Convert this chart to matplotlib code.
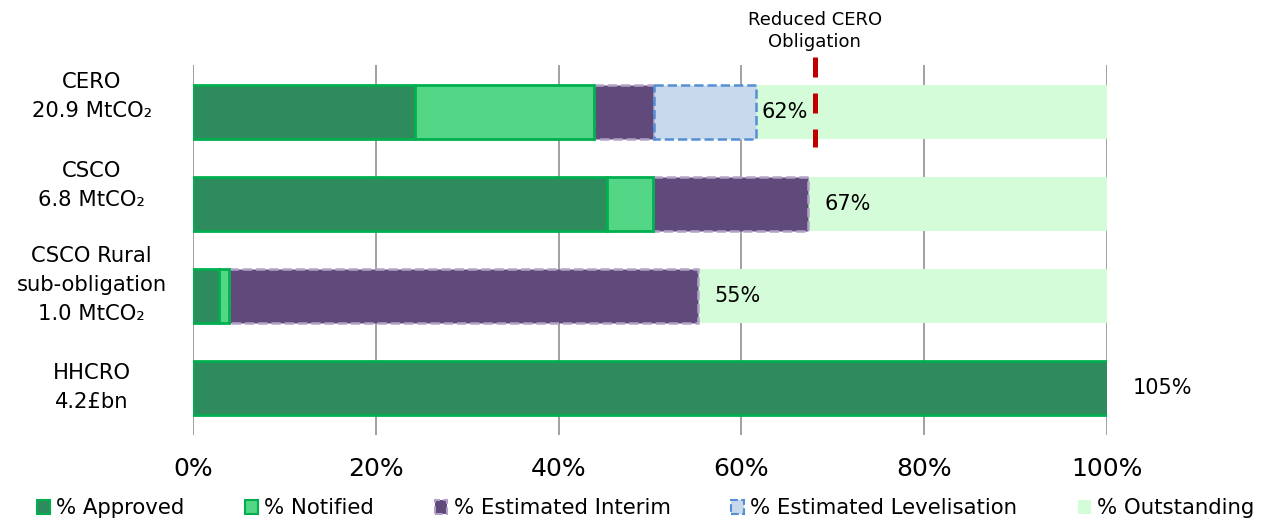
import numpy as np
import matplotlib
matplotlib.use("Agg")
import matplotlib.pyplot as plt
from matplotlib.patches import Patch
from matplotlib.transforms import blended_transform_factory

# Data (fractions of obligation)
categories = ["CERO\n20.9 MtCO\u2082", "CSCO\n6.8 MtCO\u2082",
              "CSCO Rural\nsub-obligation\n1.0 MtCO\u2082", "HHCRO\n4.2\u00a3bn"]
approved = np.array([0.243, 0.453, 0.028, 1.05])
notified = np.array([0.196, 0.050, 0.011, 0.0])
interim = np.array([0.065, 0.170, 0.513, 0.0])
levelisation = np.array([0.112, 0.0, 0.0, 0.0])
reduced_cero = 0.68

done = approved + notified + interim + levelisation
outstanding = np.clip(1.0 - done, 0, None)

# Colours
c_appr = "#2E8B5E"
c_green_edge = "#00B050"
c_notif = "#53D685"
c_int = "#604A7B"
c_int_edge = "#B3A2C7"
c_lev = "#C9D9EC"
c_lev_edge = "#558ED5"
c_out = "#D5FCD9"

fig = plt.figure(figsize=(12.66, 5.22), dpi=100)
ax = fig.add_axes([0.1525, 0.1667, 0.722, 0.7088])

y = np.arange(len(categories))
h = 0.59

left = np.zeros(len(y))
ax.barh(y, approved, h, left=left, color=c_appr, edgecolor=c_green_edge, linewidth=2, zorder=3)
left = left + approved
ax.barh(y, notified, h, left=left, color=c_notif, edgecolor=c_green_edge, linewidth=2, zorder=3)
left = left + notified
mask = interim > 0
ax.barh(y[mask], interim[mask], h, left=left[mask], color=c_int, edgecolor=c_int_edge,
        linewidth=1.8, linestyle="--", zorder=2.5)
left = left + interim
mask = levelisation > 0
ax.barh(y[mask], levelisation[mask], h, left=left[mask], color=c_lev, edgecolor=c_lev_edge,
        linewidth=1.8, linestyle="--", zorder=2.5)
left = left + levelisation
ax.barh(y, outstanding, h, left=left, color=c_out, linewidth=0, zorder=2)

# completion labels
pads = [0.006, 0.018, 0.018, 0.028]
for i in range(len(y)):
    xpos = min(done[i], 1.0) + pads[i]
    ax.text(xpos, y[i], f"{done[i] * 100:.0f}%", ha="left", va="center",
            fontsize=15, color="black", zorder=5, clip_on=False)

# reduced CERO obligation marker
ax.plot([reduced_cero, reduced_cero], [-0.6, 0.38], color="#C00000", lw=3.6,
        linestyle=(0, (4, 3.2)), solid_capstyle="butt", dash_capstyle="butt",
        zorder=6, clip_on=False)
ax.text(reduced_cero, -0.66, "Reduced CERO\nObligation", ha="center", va="bottom",
        fontsize=13, linespacing=1.3, clip_on=False)

ax.set_xlim(0, 1.0)
ax.set_ylim(len(y) - 0.5 + 0.01, -0.51)
ax.set_xticks(np.linspace(0, 1, 6))
ax.set_xticklabels([f"{v:.0f}%" for v in np.linspace(0, 100, 6)], fontsize=18)
ax.tick_params(axis="x", length=0, pad=16)
ax.set_yticks([])
ax.grid(axis="x", color="#9A9A9A", lw=1.3)
ax.set_axisbelow(True)
for s in ax.spines.values():
    s.set_visible(False)

# category labels
trans = blended_transform_factory(ax.transAxes, ax.transData)
label_dy = [-0.17, -0.2, -0.12, -0.01]
for i, lab in enumerate(categories):
    ax.text(-0.111, y[i] + label_dy[i], lab, transform=trans, ha="center", va="center",
            fontsize=15.2, linespacing=1.55, clip_on=False)

handles = [
    Patch(facecolor=c_appr, edgecolor=c_green_edge, lw=1.5, label="% Approved"),
    Patch(facecolor=c_notif, edgecolor=c_green_edge, lw=1.5, label="% Notified"),
    Patch(facecolor=c_int, edgecolor=c_int_edge, lw=1.5, ls="--", label="% Estimated Interim"),
    Patch(facecolor=c_lev, edgecolor=c_lev_edge, lw=1.5, ls="--", label="% Estimated Levelisation"),
    Patch(facecolor=c_out, edgecolor="none", label="% Outstanding"),
]
fig.legend(handles=handles, loc="center", bbox_to_anchor=(0.51, 0.026), ncol=5,
           frameon=False, fontsize=15.3, handlelength=0.6, handleheight=0.6,
           handletextpad=0.3, columnspacing=2.85)

fig.savefig("out.png", dpi=100)
